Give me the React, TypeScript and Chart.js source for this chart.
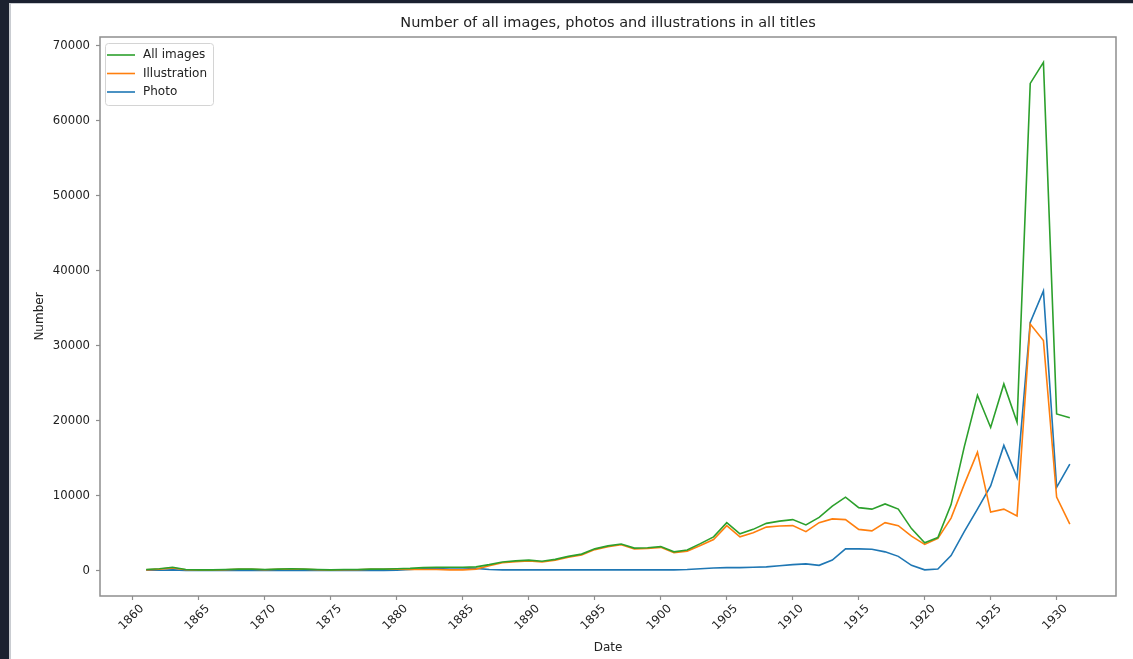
import { useEffect, useRef } from "react";
import { Chart, registerables } from "chart.js";

Chart.register(...registerables);

// Publication years on the x axis
const years = [
  1861, 1862, 1863, 1864, 1865, 1866, 1867, 1868, 1869, 1870,
  1871, 1872, 1873, 1874, 1875, 1876, 1877, 1878, 1879, 1880,
  1881, 1882, 1883, 1884, 1885, 1886, 1887, 1888, 1889, 1890,
  1891, 1892, 1893, 1894, 1895, 1896, 1897, 1898, 1899, 1900,
  1901, 1902, 1903, 1904, 1905, 1906, 1907, 1908, 1909, 1910,
  1911, 1912, 1913, 1914, 1915, 1916, 1917, 1918, 1919, 1920,
  1921, 1922, 1923, 1924, 1925, 1926, 1927, 1928, 1929, 1930, 1931,
];

const allImages = [
  150, 250, 450, 150, 100, 100, 150, 200, 200, 150,
  200, 250, 200, 150, 100, 150, 150, 200, 200, 250,
  300, 400, 450, 450, 450, 500, 800, 1150, 1300, 1400,
  1250, 1500, 1900, 2200, 2900, 3300, 3550, 3000, 3050, 3200,
  2500, 2750, 3600, 4500, 6400, 4900, 5500, 6300, 6600, 6800,
  6100, 7100, 8600, 9800, 8400, 8200, 8900, 8200, 5600, 3700,
  4400, 8800, 16500, 23400, 19100, 24900, 19800, 65000, 67800, 20900, 20400,
];

const illustration = [
  100, 200, 350, 120, 80, 80, 120, 170, 170, 120,
  170, 220, 170, 120, 80, 120, 120, 170, 170, 200,
  150, 150, 150, 100, 100, 200, 650, 1050, 1200, 1300,
  1150, 1400, 1800, 2100, 2800, 3200, 3450, 2900, 2950, 3100,
  2400, 2600, 3350, 4150, 6000, 4500, 5050, 5800, 5950, 6000,
  5200, 6400, 6900, 6800, 5500, 5300, 6400, 6000, 4600, 3500,
  4300, 7000, 11500, 15800, 7800, 8200, 7300, 32900, 30700, 9800, 6200,
];

const photo = [
  50, 50, 100, 30, 20, 20, 30, 30, 30, 30,
  30, 30, 30, 30, 20, 30, 30, 30, 30, 50,
  150, 250, 300, 350, 350, 300, 150, 100, 100, 100,
  100, 100, 100, 100, 100, 100, 100, 100, 100, 100,
  100, 150, 250, 350, 400, 400, 450, 500, 650, 800,
  900, 700, 1400, 2900, 2900, 2850, 2500, 1900, 700, 100,
  200, 2000, 5200, 8200, 11300, 16700, 12400, 33100, 37300, 11100, 14200,
];

const xTicks = [1860, 1865, 1870, 1875, 1880, 1885, 1890, 1895, 1900, 1905, 1910, 1915, 1920, 1925, 1930];
const yTicks = [0, 10000, 20000, 30000, 40000, 50000, 60000, 70000];

const seriesNames = ["All images", "Illustration", "Photo"];
const seriesColors = ["#2ca02c", "#ff7f0e", "#1f77b4"];

const TITLE = "Number of all images, photos and illustrations in all titles";
const FONT = "'DejaVu Sans', sans-serif";
const AXIS_GREY = "#8e8e8e";

const W = 1133;
const H = 659;

const framePlugin = {
  id: "frame",
  afterDraw(chart: any) {
    const { ctx, chartArea } = chart;
    const { left, right, top, bottom } = chartArea;
    ctx.save();
    // plot border
    ctx.strokeStyle = AXIS_GREY;
    ctx.lineWidth = 1.5;
    ctx.strokeRect(left, top, right - left, bottom - top);

    // title
    ctx.fillStyle = "#222";
    ctx.font = `14.5px ${FONT}`;
    ctx.textAlign = "center";
    ctx.textBaseline = "middle";
    ctx.fillText(TITLE, (left + right) / 2, 23);

    // legend
    const bx = left + 5;
    const by = top + 6;
    const bw = 108;
    const bh = 62;
    ctx.fillStyle = "rgba(255,255,255,0.85)";
    ctx.strokeStyle = "#d4d4d4";
    ctx.lineWidth = 1;
    ctx.beginPath();
    (ctx as any).roundRect(bx + 0.5, by + 0.5, bw, bh, 3);
    ctx.fill();
    ctx.stroke();
    ctx.font = `12px ${FONT}`;
    ctx.textAlign = "left";
    seriesNames.forEach((name, i) => {
      const y = by + 12 + i * 18.5;
      ctx.strokeStyle = seriesColors[i];
      ctx.lineWidth = 1.6;
      ctx.beginPath();
      ctx.moveTo(bx + 2, y);
      ctx.lineTo(bx + 30, y);
      ctx.stroke();
      ctx.fillStyle = "#222";
      ctx.fillText(name, bx + 38, y);
    });
    ctx.restore();
  },
};

export default function App() {
  const canvasRef = useRef<HTMLCanvasElement | null>(null);

  useEffect(() => {
    document.body.style.margin = "0";
    const canvas = canvasRef.current;
    if (!canvas) return;
    const series = [allImages, illustration, photo];
    const chart = new Chart(canvas, {
      type: "line",
      data: {
        datasets: series.map((vals, s) => ({
          label: seriesNames[s],
          data: years.map((yr, i) => ({ x: yr, y: vals[i] })),
          borderColor: seriesColors[s],
          backgroundColor: seriesColors[s],
          borderWidth: 1.6,
          pointRadius: 0,
          tension: 0,
          fill: false,
        })),
      },
      options: {
        animation: false,
        responsive: false,
        devicePixelRatio: 1,
        events: [],
        layout: { padding: { left: 33, right: 17, top: 37, bottom: 4 } },
        plugins: {
          legend: { display: false },
          title: { display: false },
          tooltip: { enabled: false },
        },
        scales: {
          x: {
            type: "linear",
            min: 1857.5,
            max: 1934.5,
            afterFit: (s: any) => {
              s.height = 59;
            },
            afterBuildTicks: (s: any) => {
              s.ticks = xTicks.map((v) => ({ value: v }));
            },
            ticks: {
              minRotation: 45,
              maxRotation: 45,
              autoSkip: false,
              padding: 2,
              labelOffset: 9,
              color: "#222",
              font: { family: FONT, size: 11.7 },
              callback: (v: any) => String(v),
            },
            grid: {
              display: true,
              drawOnChartArea: false,
              drawTicks: true,
              tickLength: 4,
              tickColor: AXIS_GREY,
              tickWidth: 1.2,
            },
            border: { display: false },
            title: {
              display: true,
              text: "Date",
              color: "#222",
              font: { family: FONT, size: 12 },
              padding: 0,
            },
          },
          y: {
            type: "linear",
            min: -3390,
            max: 71190,
            afterFit: (s: any) => {
              s.width = 67;
            },
            afterBuildTicks: (s: any) => {
              s.ticks = yTicks.map((v) => ({ value: v }));
            },
            ticks: {
              padding: 6,
              color: "#222",
              font: { family: FONT, size: 11.7 },
              callback: (v: any) => String(v),
            },
            grid: {
              display: true,
              drawOnChartArea: false,
              drawTicks: true,
              tickLength: 4,
              tickColor: AXIS_GREY,
              tickWidth: 1.2,
            },
            border: { display: false },
            title: {
              display: true,
              text: "Number",
              color: "#222",
              font: { family: FONT, size: 12 },
              padding: 0,
            },
          },
        },
      },
      plugins: [framePlugin],
    });
    return () => chart.destroy();
  }, []);

  return (
    <div style={{ position: "fixed", left: 0, top: 0, width: W, height: H, background: "#ffffff", overflow: "hidden" }}>
      <div style={{ position: "absolute", left: 0, top: 0, width: 9, height: H, background: "#1b2130" }} />
      <div style={{ position: "absolute", left: 9, top: 3, width: 2, height: H, background: "#c9ccd1" }} />
      <div style={{ position: "absolute", left: 0, top: 0, width: W, height: 3, background: "#1b2130" }} />
      <div style={{ position: "absolute", left: 9, top: 3, width: W, height: 1, background: "#c9ccd1" }} />
      <canvas ref={canvasRef} width={W} height={H} style={{ position: "absolute", left: 0, top: 0 }} />
    </div>
  );
}
